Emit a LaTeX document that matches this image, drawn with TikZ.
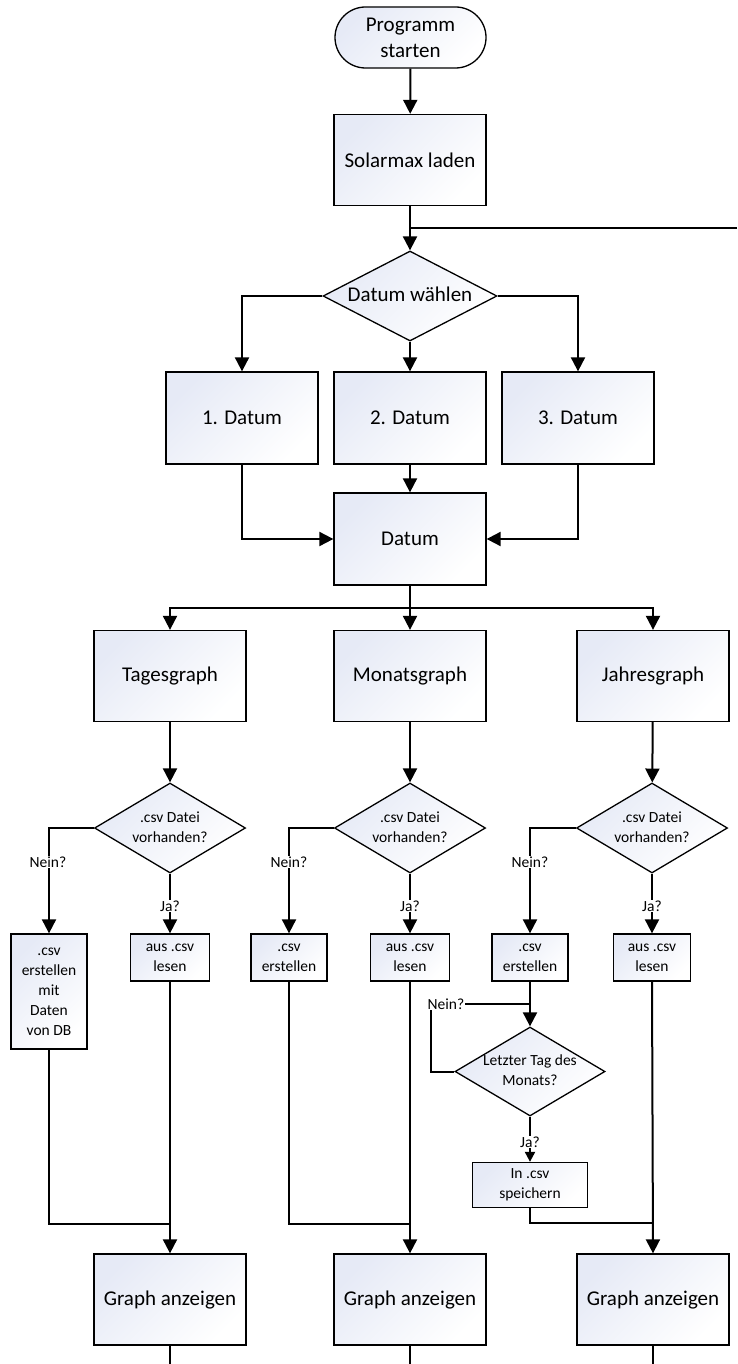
\documentclass[tikz,border=0pt]{standalone}
\usepackage{fontspec}
\setmainfont{Carlito}
\usetikzlibrary{shapes.geometric,shapes.misc,arrows.meta}
\definecolor{gtop}{HTML}{E6EAF6}
\tikzset{
  shaded/.style={top color=gtop, bottom color=white, shading angle=45},
  bigbox/.style={shaded, draw=black, line width=1.3pt, rectangle, inner sep=0pt,
    minimum width=152pt, minimum height=91pt, align=center,
    font=\fontsize{21}{26}\selectfont},
  smallbox/.style={shaded, draw=black, line width=1.3pt, rectangle, inner sep=0pt,
    minimum width=77pt, minimum height=47pt, align=center,
    font=\fontsize{15.5}{20}\selectfont},
  startbox/.style={shaded, draw=black, line width=1.3pt, rounded rectangle, inner sep=0pt,
    minimum width=151pt, minimum height=61pt, align=center,
    font=\fontsize{21}{26}\selectfont},
  decision/.style={shaded, draw=black, line width=1.3pt, diamond, inner sep=0pt,
    aspect=1.7},
  conn/.style={line width=2pt, draw=black},
  arr/.style={conn, -{Triangle[length=14pt,width=14pt]}},
  sarr/.style={conn, -{Triangle[length=10pt,width=10pt]}},
  lbl/.style={fill=white, inner sep=1pt, font=\fontsize{15.5}{20}\selectfont},
}
\newcommand{\dtext}[1]{\makebox[0pt]{\begin{tabular}{@{}c@{}}#1\end{tabular}}}
\begin{document}
\begin{tikzpicture}[x=1pt,y=-1pt]
\useasboundingbox[fill=white] (0,0) rectangle (737,1364);

% nodes
\node[startbox] (start) at (410.5,37.5) {Programm\\starten};
\node[bigbox] (solar) at (410,160) {Solarmax laden};
\node[decision, minimum width=174pt, minimum height=90pt,
  font=\fontsize{21}{26}\selectfont] (wahl) at (410,296) {\dtext{Datum wählen}};
\node[bigbox, minimum height=92pt] (d1) at (242,418) {1. Datum};
\node[bigbox, minimum height=92pt] (d2) at (410,418) {2. Datum};
\node[bigbox, minimum height=92pt] (d3) at (578,418) {3. Datum};
\node[bigbox, minimum height=92pt] (datum) at (410,539) {Datum};

\node[bigbox] (tag) at (170,676) {Tagesgraph};
\node[bigbox] (mon) at (410,676) {Monatsgraph};
\node[bigbox] (jahr) at (653,676) {Jahresgraph};

\node[decision, minimum width=151pt, minimum height=90pt,
  font=\fontsize{15.5}{20}\selectfont] (c1) at (170,828) {\dtext{.csv Datei\\vorhanden?}};
\node[decision, minimum width=151pt, minimum height=90pt,
  font=\fontsize{15.5}{20}\selectfont] (c2) at (410,828) {\dtext{.csv Datei\\vorhanden?}};
\node[decision, minimum width=151pt, minimum height=90pt,
  font=\fontsize{15.5}{20}\selectfont] (c3) at (652,828) {\dtext{.csv Datei\\vorhanden?}};

\node[smallbox, minimum width=76pt, minimum height=115pt] (n1) at (49,991.5)
  {.csv\\erstellen\\mit\\Daten\\von DB};
\node[smallbox, minimum width=79pt] (j1) at (170,957.5) {aus .csv\\lesen};
\node[smallbox, minimum width=76pt] (n2) at (289,957.5) {.csv\\erstellen};
\node[smallbox, minimum width=79pt] (j2) at (410,957.5) {aus .csv\\lesen};
\node[smallbox, minimum width=76pt] (n3) at (530,957.5) {.csv\\erstellen};
\node[smallbox, minimum width=77pt] (j3) at (652,957.5) {aus .csv\\lesen};

\node[decision, minimum width=150pt, minimum height=89pt,
  font=\fontsize{15.5}{20}\selectfont] (letzt) at (530,1071.5) {\dtext{Letzter Tag des\\Monats?}};
\node[smallbox, minimum width=115pt, minimum height=45pt] (save) at (530,1185) {In .csv\\speichern};

\node[bigbox] (g1) at (170,1299.5) {Graph anzeigen};
\node[bigbox] (g2) at (410,1299.5) {Graph anzeigen};
\node[bigbox] (g3) at (653,1299.5) {Graph anzeigen};

% coordinates
\coordinate (edgeR) at (737,228);
\coordinate (split) at (410,608);
\coordinate (join1) at (170,1224);
\coordinate (join2) at (410,1224);
\coordinate (join3) at (652,1223);
\coordinate (jn3) at (530,1004);
\coordinate (loopL) at (431,1004);
\coordinate (b1) at (170,1364);
\coordinate (b2) at (410,1364);
\coordinate (b3) at (653,1364);

% connectors
\draw[arr] (start) -- (solar);
\draw[arr] (solar) -- (wahl);
\draw[conn] (edgeR) -- (edgeR -| solar.south);
\draw[arr] (wahl.west) -| (d1.north);
\draw[arr] (wahl.south) -- (d2.north);
\draw[arr] (wahl.east) -| (d3.north);
\draw[arr] (d1.south) |- (datum.west);
\draw[arr] (d2.south) -- (datum.north);
\draw[arr] (d3.south) |- (datum.east);
\draw[conn] (datum.south) -- (split);
\draw[arr] (split) -| (tag.north);
\draw[arr] (split) -- (mon.north);
\draw[arr] (split) -| (jahr.north);

\draw[arr] (tag) -- (c1);
\draw[arr] (mon) -- (c2);
\draw[arr] (jahr) -- (c3);

\draw[arr] (c1.west) -| (n1.north);
\draw[arr] (c1.south) -- (j1.north);
\draw[arr] (c2.west) -| (n2.north);
\draw[arr] (c2.south) -- (j2.north);
\draw[arr] (c3.west) -| (n3.north);
\draw[arr] (c3.south) -- (j3.north);

\draw[conn] (n1.south) |- (join1);
\draw[arr] (j1.south) -- (g1.north);
\draw[conn] (n2.south) |- (join2);
\draw[arr] (j2.south) -- (g2.north);

\draw[arr] (n3.south) -- (letzt.north);
\draw[conn] (letzt.west) -| (loopL) -- (jn3);
\draw[sarr] (letzt.south) -- (save.north);
\draw[conn] (save.south) |- (join3);
\draw[arr] (j3.south) -- (g3.north);

\draw[conn] (g1.south) -- (b1);
\draw[conn] (g2.south) -- (b2);
\draw[conn] (g3.south) -- (b3);

% labels
\node[lbl] (nein1) at (48,862) {Nein?};
\node[lbl] (ja1) at (170,906) {Ja?};
\node[lbl] (nein2) at (289,862) {Nein?};
\node[lbl] (ja2) at (410,906) {Ja?};
\node[lbl] (nein3) at (530,862) {Nein?};
\node[lbl] (ja3) at (652,906) {Ja?};
\node[lbl] (nein4) at (446,1004) {Nein?};
\node[lbl] (ja4) at (530,1142) {Ja?};
\end{tikzpicture}
\end{document}
